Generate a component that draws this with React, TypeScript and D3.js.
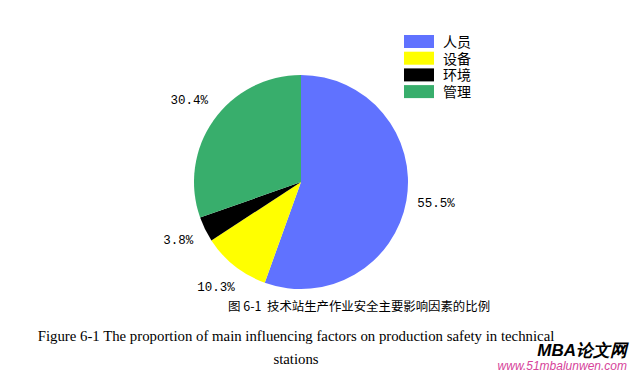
import * as d3 from "d3";
import React, { useEffect, useRef } from "react";

const categories = ["人员", "设备", "环境", "管理"];
const values = [55.5, 10.3, 3.8, 30.4];
const colors = ["#6072ff", "#ffff00", "#000000", "#38ae6c"];

export default function App() {
  const svgRef = useRef<SVGSVGElement>(null);

  useEffect(() => {
    const svg = d3.select(svgRef.current);
    svg.selectAll("*").remove();

    const width = 630;
    const height = 372;
    const cx = 301;
    const cy = 182;
    const radius = 107;

    svg.append("rect").attr("width", width).attr("height", height).attr("fill", "#fff");

    const pie = d3.pie<number>().sort(null).value(d => d);
    const arcs = pie(values);
    const arc = d3.arc<d3.PieArcDatum<number>>().innerRadius(0).outerRadius(radius);
    const labelArc = d3.arc<d3.PieArcDatum<number>>().innerRadius(radius + 30).outerRadius(radius + 30);

    const g = svg.append("g").attr("transform", `translate(${cx},${cy})`);

    g.selectAll("path")
      .data(arcs)
      .join("path")
      .attr("d", arc)
      .attr("fill", (_, i) => colors[i]);

    // percentage labels
    g.selectAll("text.pct")
      .data(arcs)
      .join("text")
      .attr("class", "pct")
      .attr("x", d => labelArc.centroid(d)[0])
      .attr("y", d => labelArc.centroid(d)[1] - 2)
      .attr("text-anchor", "middle")
      .attr("dominant-baseline", "middle")
      .style("font-family", "'Liberation Mono', monospace")
      .style("font-size", "12.5px")
      .style("fill", "#000")
      .text(d => `${d.data.toFixed(1)}%`);

    // Legend
    const legend = svg.append("g").attr("transform", "translate(404,35)");
    const item = legend.selectAll("g")
      .data(categories)
      .join("g")
      .attr("transform", (_, i) => `translate(0,${i * 16.7})`);
    item.append("rect")
      .attr("width", 30)
      .attr("height", 13)
      .attr("fill", (_, i) => colors[i]);
    item.append("text")
      .attr("x", 39)
      .attr("y", 12)
      .style("font-family", "'Noto Sans CJK SC'")
      .style("font-size", "14px")
      .style("fill", "#000")
      .text(d => d);

    // Captions
    svg.append("text")
      .attr("x", 228)
      .attr("y", 311)
      .style("font-family", "'Noto Sans CJK SC'")
      .style("font-size", "12.5px")
      .style("fill", "#000")
      .text("图 6-1");
    svg.append("text")
      .attr("x", 267)
      .attr("y", 311)
      .style("font-family", "'Noto Sans CJK SC'")
      .style("font-size", "12.4px")
      .style("fill", "#000")
      .text("技术站生产作业安全主要影响因素的比例");

    svg.append("text")
      .attr("x", 296)
      .attr("y", 341)
      .attr("text-anchor", "middle")
      .style("font-family", "'Liberation Serif', serif")
      .style("font-size", "14.8px")
      .style("fill", "#000")
      .text("Figure 6-1 The proportion of main influencing factors on production safety in technical");
    svg.append("text")
      .attr("x", 296)
      .attr("y", 364)
      .attr("text-anchor", "middle")
      .style("font-family", "'Liberation Serif', serif")
      .style("font-size", "14.8px")
      .style("fill", "#000")
      .text("stations");

    // watermark
    svg.append("text")
      .attr("x", 627)
      .attr("y", 356)
      .attr("text-anchor", "end")
      .style("font-family", "'Liberation Sans', sans-serif")
      .style("font-size", "17px")
      .style("font-weight", "bold")
      .style("font-style", "italic")
      .style("fill", "#000")
      .text("MBA论文网");
    svg.append("text")
      .attr("x", 627)
      .attr("y", 370)
      .attr("text-anchor", "end")
      .style("font-family", "'Liberation Sans', sans-serif")
      .style("font-size", "12px")
      .style("font-style", "italic")
      .style("fill", "#d6449a")
      .text("www.51mbalunwen.com");
  }, []);

  return (
    <svg ref={svgRef} width={630} height={372} style={{ position: "absolute", left: 0, top: 0 }}></svg>
  );
}
